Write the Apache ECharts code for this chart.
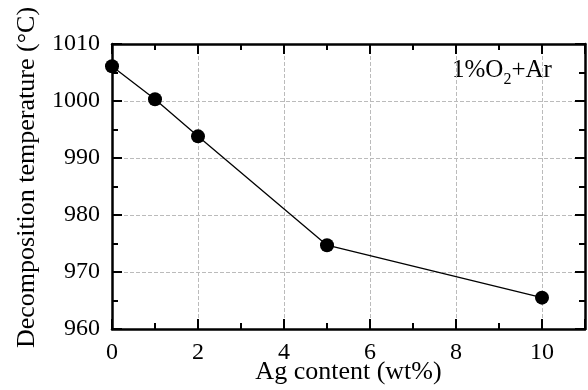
<!DOCTYPE html>
<html>
<head>
<meta charset="utf-8">
<script src="https://cdn.jsdelivr.net/npm/echarts@6/dist/echarts.min.js"></script>
<style>
  html, body { margin: 0; padding: 0; background: #fff; }
  #chart { width: 588px; height: 390px; }
</style>
</head>
<body>
<div id="chart"></div>
<script>
// data
var agContent = [0, 1, 2, 5, 10];
var decompTemp = [1006.1, 1000.3, 993.8, 974.7, 965.5];

var font = 'Liberation Serif';

var chart = echarts.init(document.getElementById('chart'));

function frameAxis(extra) {
    var base = {
        axisLine: { show: true, onZero: false, lineStyle: { color: '#000', width: 2.5 } },
        axisTick: { show: true, inside: true, length: 10, lineStyle: { color: '#000', width: 2 } },
        minorTick: { show: true, splitNumber: 2, length: 6, lineStyle: { color: '#000', width: 2 } },
        axisLabel: { show: false },
        splitLine: { show: false }
    };
    return Object.assign(base, extra);
}

var option = {
    animation: false,
    grid: { left: 112, top: 44, right: 3, bottom: 61, outerBoundsMode: 'none', containLabel: false },
    xAxis: [
        frameAxis({
            type: 'value', min: 0, max: 11, interval: 2, position: 'bottom',
            name: 'Ag content (wt%)', nameLocation: 'middle', nameGap: 30, nameMoveOverlap: false,
            nameTextStyle: { fontFamily: font, fontSize: 26, color: '#000' },
            axisLabel: { show: true, margin: 12, fontFamily: font, fontSize: 24, color: '#000',
                formatter: function (v) { return v % 2 === 0 && v <= 10 ? v : ''; } },
            splitLine: { show: true, lineStyle: { color: '#bbb', type: 'dashed', width: 1 } }
        }),
        frameAxis({ type: 'value', min: 0, max: 11, interval: 2, position: 'top' })
    ],
    yAxis: [
        frameAxis({
            type: 'value', min: 960, max: 1010, interval: 10, position: 'left',
            name: 'Decomposition temperature (\u00b0C)', nameLocation: 'middle', nameGap: 72, nameMoveOverlap: false,
            nameTextStyle: { fontFamily: font, fontSize: 26, color: '#000', padding: [0, 0, 0, 18] },
            axisLabel: { show: true, margin: 12, fontFamily: font, fontSize: 24, color: '#000',
                formatter: function (v) { return String(v); } },
            splitLine: { show: true, lineStyle: { color: '#bbb', type: 'dashed', width: 1 } }
        }),
        frameAxis({ type: 'value', min: 960, max: 1010, interval: 10, position: 'right' })
    ],
    graphic: [{
        type: 'text',
        left: 452,
        top: 58,
        style: {
            text: '{a|1%O}{b|2}{a|+Ar}',
            rich: {
                a: { fontFamily: font, fontSize: 25, fill: '#000', verticalAlign: 'top', lineHeight: 28 },
                b: { fontFamily: font, fontSize: 16, fill: '#000', verticalAlign: 'top', padding: [14, 0, 0, 0], lineHeight: 28 }
            }
        }
    }],
    series: [{
        type: 'line',
        xAxisIndex: 0,
        yAxisIndex: 0,
        data: agContent.map(function (x, i) { return [x, decompTemp[i]]; }),
        symbol: 'circle',
        symbolSize: 14,
        itemStyle: { color: '#000' },
        lineStyle: { color: '#000', width: 1.3 },
        clip: false
    }]
};

chart.setOption(option);
</script>
</body>
</html>
